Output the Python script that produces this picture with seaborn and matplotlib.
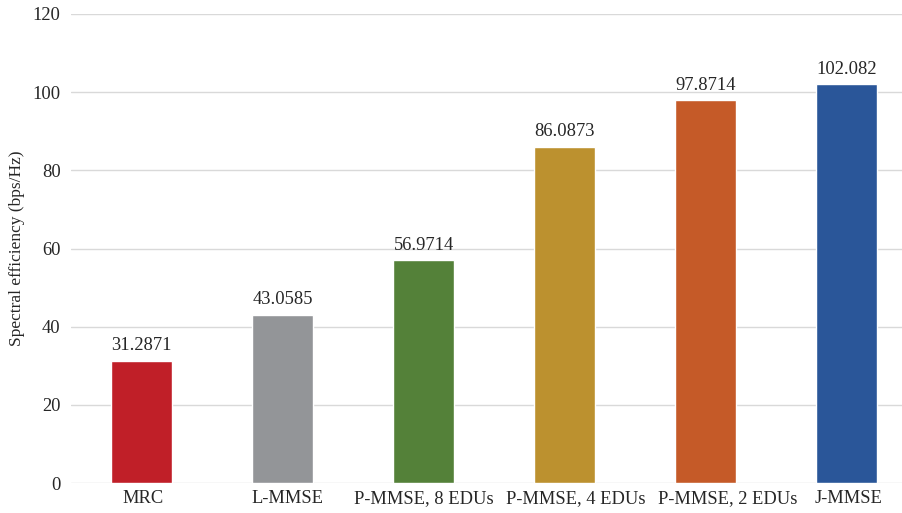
import matplotlib
matplotlib.use("Agg")
import matplotlib.pyplot as plt
import matplotlib.transforms as mtransforms
import seaborn as sns
import pandas as pd

categories = ["MRC", "L-MMSE", "P-MMSE, 8 EDUs", "P-MMSE, 4 EDUs", "P-MMSE, 2 EDUs", "J-MMSE"]
values = [31.2871, 43.0585, 56.9714, 86.0873, 97.8714, 102.082]
labels = ["31.2871", "43.0585", "56.9714", "86.0873", "97.8714", "102.082"]
colors = ["#C01F28", "#939598", "#548139", "#BC912F", "#C55A28", "#2A5699"]
# horizontal nudges of category labels (pixels), as laid out in the reference
label_shift_px = [2, 4.5, 0, 11, 22, 2]

sns.set_theme(style="white")
plt.rcParams["font.family"] = ["Liberation Serif", "DejaVu Serif"]

df = pd.DataFrame({"cat": categories, "val": values})

fig = plt.figure(figsize=(9.03, 5.13), dpi=100)
ax = fig.add_axes([71/903, 1 - 483/513, 1 - 71/903, (483 - 14)/513])
sns.barplot(data=df, x="cat", y="val", hue="cat", palette=colors, legend=False,
            width=0.433, ax=ax, zorder=3, saturation=1)
for p, lab in zip(ax.patches, labels):
    ax.text(p.get_x() + p.get_width()/2, p.get_height() + 1.6, lab,
            ha="center", va="bottom", fontsize=13.3, color="#262626")

ax.set_ylim(0, 120)
ax.set_xlim(-0.5, 5.4)
ax.set_yticks(range(0, 121, 20))
ax.yaxis.grid(True, color="#D9D9D9", linewidth=1.0, zorder=0)
ax.set_axisbelow(True)
for s in ax.spines.values():
    s.set_visible(False)
ax.tick_params(axis="both", length=0, labelsize=13.3, colors="#262626")
ax.tick_params(axis="y", pad=7.5)
ax.tick_params(axis="x", pad=5)
ax.set_xlabel("")
ax.set_ylabel("Spectral efficiency (bps/Hz)", fontsize=12.5, color="#262626")
ax.yaxis.set_label_coords(-0.0553, 0.5)

for t, dx in zip(ax.get_xticklabels(), label_shift_px):
    t.set_transform(t.get_transform() + mtransforms.ScaledTranslation(dx/100, 0, fig.dpi_scale_trans))

fig.savefig("out.png", dpi=100)
